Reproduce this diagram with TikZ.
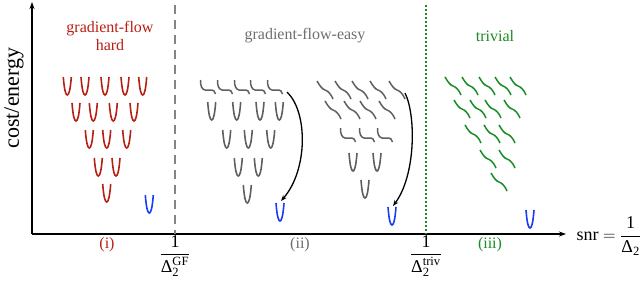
\documentclass[tikz,border=0pt]{standalone}
\usepackage{amsmath}
\usepackage{fontspec}
\setmainfont{Liberation Serif}
\usetikzlibrary{arrows.meta}
\definecolor{cred}{RGB}{185,30,20}
\definecolor{cblue}{RGB}{25,60,245}
\definecolor{cgray}{RGB}{95,95,95}
\definecolor{tgray}{RGB}{110,110,110}
\definecolor{cgreen}{RGB}{25,140,35}
\tikzset{
  vee/.pic={\draw[line width=1.6pt] (-4,0) .. controls (-3,13) and (-1.6,18) .. (0,18) .. controls (1.6,18) and (3,13) .. (4,0);},
  stepw/.pic={\draw[line width=1.5pt] (-7.5,0) .. controls (-7.5,6) and (-6.5,9) .. (-3,10) -- (2,10) .. controls (5.5,10) and (7,11) .. (7.5,14);},
  diag/.pic={\draw[line width=1.5pt] (-8,0) .. controls (-5,5) and (-3,8) .. (0,9) .. controls (3,10) and (6,13) .. (8,18);},
  lbl/.style={font=\fontsize{16}{18}\selectfont},
  frac/.style={font=\fontsize{18}{21}\selectfont},
  axis/.style={line width=1.2pt,-{Stealth[length=7pt,width=5pt]}},
  flowarrow/.style={line width=1.3pt,-{Stealth[length=6pt,width=4.5pt]}},
}
\begin{document}
\begin{tikzpicture}[x=1pt,y=-1pt]
\useasboundingbox (0,0) rectangle (640,282);
% axes
\coordinate (O) at (32,234);
\coordinate (ytop) at (32,2);
\coordinate (xend) at (566,234);
\draw[axis] (O) -- (ytop);
\draw[axis] (O) -- (xend);
\node[font=\fontsize{22}{24}\selectfont, rotate=90] (ylab) at (14,98) {cost/energy};
\node[frac, anchor=west] (xlab) at (573,236) {snr $=\dfrac{\text{1}}{\text{Δ}_{\text{2}}}$};
% separators
\coordinate (gft) at (175,5);
\coordinate (gfb) at (175,234);
\draw[tgray!85, line width=2.5pt, dash pattern=on 9pt off 6pt] (gft) -- (gfb);
\coordinate (tvt) at (426,5);
\coordinate (tvb) at (426,234);
\draw[cgreen, line width=2pt, dotted] (tvt) -- (tvb);
\node[frac] (gflab) at (175,256) {$\dfrac{\text{1}}{\text{Δ}_{\text{2}}^{\text{GF}}}$};
\node[frac] (tvlab) at (426,256) {$\dfrac{\text{1}}{\text{Δ}_{\text{2}}^{\text{triv}}}$};
% region labels
\node[lbl, text=cred, align=center] (hard) at (110,36) {gradient-flow\\hard};
\node[lbl, text=tgray] (easy) at (305,36) {gradient-flow-easy};
\node[lbl, text=cgreen] (triv) at (495,36) {trivial};
\node[lbl, text=cred] (r1) at (107,245) {(i)};
\node[lbl, text=tgray] (r2) at (300,245) {(ii)};
\node[lbl, text=cgreen] (r3) at (490,245) {(iii)};
% region (i)
\begin{scope}[color=cred]
\foreach \x in {67.3,85,105,125,142.7} \pic at (\x,77) {vee};
\foreach \x in {76,93.3,113.3,134} \pic at (\x,103) {vee};
\foreach \x in {89.3,106.7,126.7} \pic at (\x,130) {vee};
\foreach \x in {98.3,116} \pic at (\x,158) {vee};
\pic at (106.7,184) {vee};
\end{scope}
\pic[color=cblue] at (149.3,195) {vee};
% region (ii) first cluster
\begin{scope}[color=cgray]
\foreach \x in {208,225,242,258,275} \pic at (\x,80) {stepw};
\foreach \x in {211.7,236.7,260,279.3} \pic at (\x,102) {vee};
\foreach \x in {226.7,248.3,270.7} \pic at (\x,130) {vee};
\foreach \x in {238.3,258.3} \pic at (\x,158) {vee};
\pic at (247.3,185) {vee};
\end{scope}
\pic[color=cblue] at (280,203) {vee};
% region (ii) second cluster
\begin{scope}[color=cgray]
\foreach \x in {325,343,360,378,397} \pic at (\x,81) {diag};
\foreach \x in {333,352,368,387} \pic at (\x,101) {diag};
\foreach \x in {348,367,385} \pic at (\x,128) {stepw};
\foreach \x in {353,377} \pic at (\x,153) {vee};
\pic at (365,180) {vee};
\end{scope}
\pic[color=cblue] at (392,207) {vee};
% region (iii)
\begin{scope}[color=cgreen]
\foreach \x in {453,470,487,503,518} \pic at (\x,77) {diag};
\foreach \x in {462,478,493,512} \pic at (\x,100) {diag};
\foreach \x in {473,492,507} \pic at (\x,125) {diag};
\foreach \x in {488,507} \pic at (\x,150) {diag};
\pic at (499,173) {diag};
\end{scope}
\pic[color=cblue] at (530,210) {vee};
% flow arrows
\coordinate (a1s) at (287,92);
\coordinate (a1e) at (281,201);
\coordinate (a2s) at (405,93);
\coordinate (a2e) at (393,206);
\draw[flowarrow] (a1s) .. controls (308,112) and (308,170) .. (a1e);
\draw[flowarrow] (a2s) .. controls (416,115) and (416,175) .. (a2e);
\end{tikzpicture}
\end{document}
